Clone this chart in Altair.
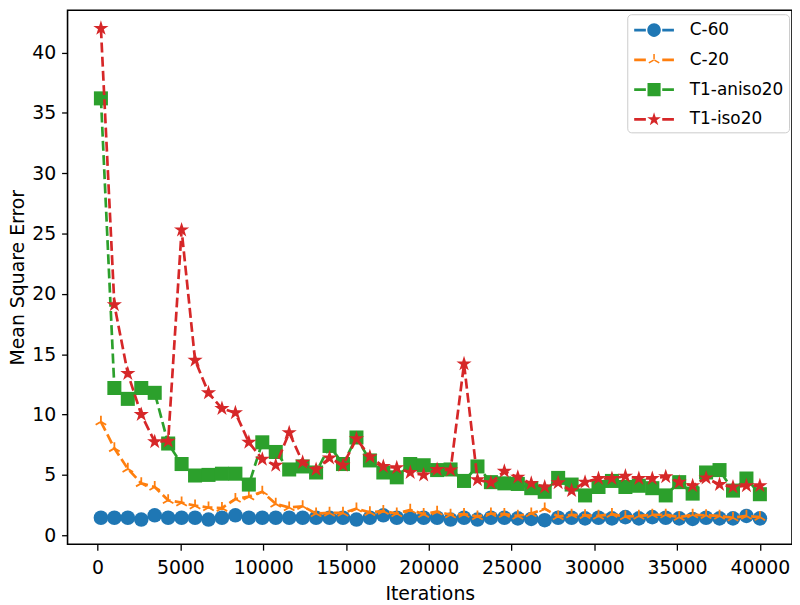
import altair as alt
import pandas as pd

iterations = [200, 1012, 1824, 2637, 3449, 4261, 5073, 5886, 6698, 7510,
              8322, 9135, 9947, 10759, 11571, 12384, 13196, 14008, 14820, 15633,
              16445, 17257, 18069, 18882, 19694, 20506, 21318, 22131, 22943, 23755,
              24567, 25380, 26192, 27004, 27816, 28629, 29441, 30253, 31065, 31878,
              32690, 33502, 34314, 35127, 35939, 36751, 37563, 38376, 39188, 40000]

c60 = [1.45, 1.45, 1.45, 1.3, 1.65, 1.45, 1.45, 1.45, 1.3, 1.45,
       1.65, 1.45, 1.45, 1.45, 1.45, 1.45, 1.45, 1.45, 1.45, 1.3,
       1.45, 1.65, 1.45, 1.45, 1.45, 1.45, 1.3, 1.45, 1.3, 1.45,
       1.45, 1.4, 1.35, 1.25, 1.45, 1.45, 1.4, 1.45, 1.4, 1.5,
       1.4, 1.5, 1.45, 1.4, 1.35, 1.45, 1.4, 1.4, 1.6, 1.4]

c20 = [9.4, 7.2, 5.5, 4.3, 4.0, 2.9, 2.7, 2.45, 2.3, 2.25,
       3.0, 3.2, 3.6, 2.6, 2.3, 2.4, 1.8, 1.85, 1.85, 2.2,
       1.9, 2.0, 1.8, 2.1, 1.75, 1.95, 1.7, 1.75, 1.55, 1.8,
       1.75, 1.6, 1.8, 2.2, 1.55, 1.7, 1.65, 1.6, 1.75, 1.55,
       1.6, 1.7, 1.7, 1.5, 1.7, 1.65, 1.6, 1.45, 1.6, 1.5]

t1_aniso20 = [36.2, 12.2, 11.3, 12.2, 11.8, 7.6, 5.9, 4.95, 5.0, 5.1,
              5.1, 4.2, 7.7, 6.9, 5.45, 5.7, 5.2, 7.4, 5.9, 8.1,
              6.2, 5.2, 4.8, 5.9, 5.8, 5.4, 5.45, 4.5, 5.7, 4.4,
              4.3, 4.25, 3.9, 3.6, 4.75, 4.2, 3.3, 4.0, 4.5, 4.0,
              4.1, 3.9, 3.3, 4.4, 3.45, 5.2, 5.4, 3.7, 4.7, 3.4]

t1_iso20 = [42.0, 19.1, 13.4, 10.0, 7.75, 7.8, 25.3, 14.5, 11.8, 10.5,
            10.15, 7.7, 6.3, 5.8, 8.5, 6.05, 5.45, 6.4, 5.8, 8.0,
            6.5, 5.7, 5.6, 5.2, 5.0, 5.45, 5.4, 14.2, 4.6, 4.35,
            5.3, 4.8, 4.3, 4.0, 4.35, 3.7, 4.4, 4.7, 4.7, 4.9,
            4.7, 4.7, 4.85, 4.4, 4.1, 4.75, 4.2, 4.0, 4.1, 4.1]

series_names = ["C-60", "C-20", "T1-aniso20", "T1-iso20"]
series_colors = ["#1f77b4", "#ff7f0e", "#2ca02c", "#d62728"]
x_ticks = [0, 5000, 10000, 15000, 20000, 25000, 30000, 35000, 40000]
y_ticks = [0, 5, 10, 15, 20, 25, 30, 35, 40]

FONT = "DejaVu Sans"

# marker shapes (unit paths)
STAR = ("M0,-1L0.224,-0.308L0.951,-0.309L0.362,0.118L0.588,0.809L0,0.381"
        "L-0.588,0.809L-0.362,0.118L-0.951,-0.309L-0.224,-0.308Z")
TRI = "M0,0L0,-1M0,0L-0.866,0.5M0,0L0.866,0.5"

# legend symbols: dash - marker - dash
DASH = "M-1.82,-0.13H-0.75V0.13H-1.82ZM0.75,-0.13H1.82V0.13H0.75Z"
LEG_CIRCLE = DASH + "M-0.62,0A0.62,0.62,0,1,0,0.62,0A0.62,0.62,0,1,0,-0.62,0Z"
LEG_TRI = (DASH + "M-0.07,0.03H0.07V-0.55H-0.07Z"
           "M-0.035,0.06L0.035,-0.06L0.511,0.215L0.441,0.335Z"
           "M-0.441,0.335L-0.511,0.215L-0.035,-0.06L0.035,0.06Z")
LEG_SQUARE = DASH + "M-0.6,-0.6H0.6V0.6H-0.6Z"
LEG_STAR = (DASH + "M0,-0.66L0.148,-0.203L0.628,-0.204L0.239,0.078L0.388,0.534"
            "L0,0.251L-0.388,0.534L-0.239,0.078L-0.628,-0.204L-0.148,-0.203Z")
legend_paths = [LEG_CIRCLE, LEG_TRI, LEG_SQUARE, LEG_STAR]

values = [c60, c20, t1_aniso20, t1_iso20]
rows = []
for name, vals in zip(series_names, values):
    for it, v in zip(iterations, vals):
        rows.append({"it": it, "mse": v, "series": name})
df = pd.DataFrame(rows)

W, H = 730, 538

x_enc = alt.X("it:Q",
              scale=alt.Scale(domain=[-1816, 41940], nice=False, zero=False),
              axis=alt.Axis(values=x_ticks, format="d", title="Iterations",
                            titleY=56, titleBaseline="alphabetic", labelPadding=9))
y_enc = alt.Y("mse:Q",
              scale=alt.Scale(domain=[-0.74, 43.5], nice=False, zero=False),
              axis=alt.Axis(values=y_ticks, title="Mean Square Error",
                            titleX=-44, titleY=H / 2, titleAngle=270,
                            titleAlign="center", titleBaseline="alphabetic",
                            labelPadding=6))

marker_specs = {
    "C-60": dict(shape="circle", filled=True, size=215),
    "C-20": dict(shape=TRI, filled=False, size=150, strokeWidth=1.8),
    "T1-aniso20": dict(shape="square", filled=True, size=200),
    "T1-iso20": dict(shape=STAR, filled=True, size=260),
}

layers = []
for name, color in zip(series_names, series_colors):
    sub = df[df["series"] == name]
    line = alt.Chart(sub).mark_line(color=color, strokeWidth=2.7,
                                    strokeDash=[10, 4.3]).encode(x=x_enc, y=y_enc)
    pts = alt.Chart(sub).mark_point(color=color, opacity=1,
                                    **marker_specs[name]).encode(x=x_enc, y=y_enc)
    layers += [line, pts]

leg = alt.Legend(title=None, orient="none", legendX=564, legendY=4, padding=5,
                 rowPadding=11, symbolSize=484, symbolOffset=11, labelOffset=25,
                 labelFont=FONT, labelFontSize=17, labelColor="black",
                 fillColor="white", strokeColor="#cccccc", cornerRadius=4,
                 symbolOpacity=1, symbolStrokeWidth=0, labelLimit=300)

legend_layer = alt.Chart(df).mark_point(filled=True, opacity=0).encode(
    x=x_enc, y=y_enc,
    color=alt.Color("series:N", scale=alt.Scale(domain=series_names, range=series_colors), legend=leg),
    shape=alt.Shape("series:N", scale=alt.Scale(domain=series_names, range=legend_paths), legend=leg),
)
layers.append(legend_layer)

chart = alt.layer(*layers).properties(
    width=W, height=H,
    autosize=alt.AutoSizeParams(type="none"),
    padding={"left": 60, "top": 0, "right": 0, "bottom": 58},
    background="white",
).configure_view(
    stroke="black", strokeWidth=1.6
).configure_axis(
    labelFont=FONT, labelFontSize=19, labelColor="black",
    titleFont=FONT, titleFontSize=19, titleFontWeight="normal", titleColor="black",
    tickColor="black", tickSize=6, tickWidth=1.3, domain=False, grid=False,
)

chart.save("out.html", embed_options={"renderer": "svg", "actions": False})
